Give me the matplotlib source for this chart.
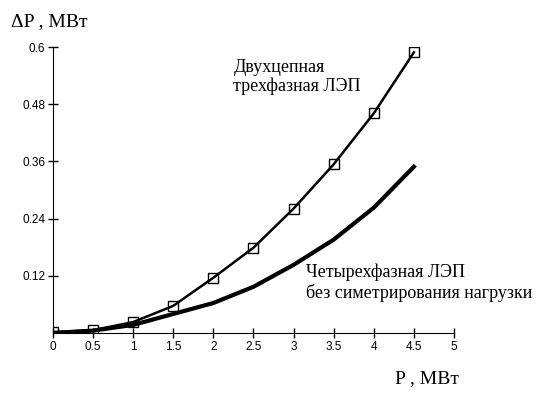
import numpy as np
import matplotlib.pyplot as plt

# data
p = [0, 0.5, 1, 1.5, 2, 2.5, 3, 3.5, 4, 4.5]
dp_two_circuit = [0.002, 0.006, 0.023, 0.057, 0.116, 0.179, 0.261, 0.354, 0.461, 0.589]
dp_four_phase = [0.0, 0.005, 0.017, 0.040, 0.063, 0.097, 0.143, 0.196, 0.263, 0.349]

x_ticks = [0, 0.5, 1, 1.5, 2, 2.5, 3, 3.5, 4, 4.5, 5]
x_tick_labels = ['0', '0.5', '1', '1.5', '2', '2.5', '3', '3.5', '4', '4.5', '5']
y_ticks = [0.12, 0.24, 0.36, 0.48, 0.6]
y_tick_labels = ['0.12', '0.24', '0.36', '0.48', '0.6']

fig = plt.figure(figsize=(5.45, 3.96), dpi=100)
ax = fig.add_axes([0.097, 0.159, 0.736, 0.722])

ax.plot(p, dp_two_circuit, '-', color='black', linewidth=1.8,
        marker='s', markersize=6.5, markerfacecolor='none', markeredgewidth=1.0)
ax.plot(p, dp_four_phase, '-', color='black', linewidth=3)

ax.set_xlim(0, 5)
ax.set_ylim(0, 0.6)
ax.set_xticks(x_ticks)
ax.set_xticklabels(x_tick_labels, family='Liberation Sans', fontsize=8.5)
ax.set_yticks(y_ticks)
ax.set_yticklabels(y_tick_labels, family='Liberation Sans', fontsize=8.5)
ax.tick_params(direction='inout', length=7, width=1, pad=2)
ax.spines['top'].set_visible(False)
ax.spines['right'].set_visible(False)

serif = 'Liberation Serif'
fig.text(0.02, 0.945, 'ΔP , МВт', family=serif, fontsize=14, va='center')
fig.text(0.725, 0.045, 'P , МВт', family=serif, fontsize=14, va='center')

ax.text(2.25, 0.575, 'Двухцепная\nтрехфазная ЛЭП', family=serif, fontsize=13,
        va='top', linespacing=1.1)
ax.text(3.15, 0.145, 'Четырехфазная ЛЭП\nбез симетрирования нагрузки', family=serif,
        fontsize=13, va='top', linespacing=1.15, clip_on=False)

fig.savefig('out.png', dpi=100)
